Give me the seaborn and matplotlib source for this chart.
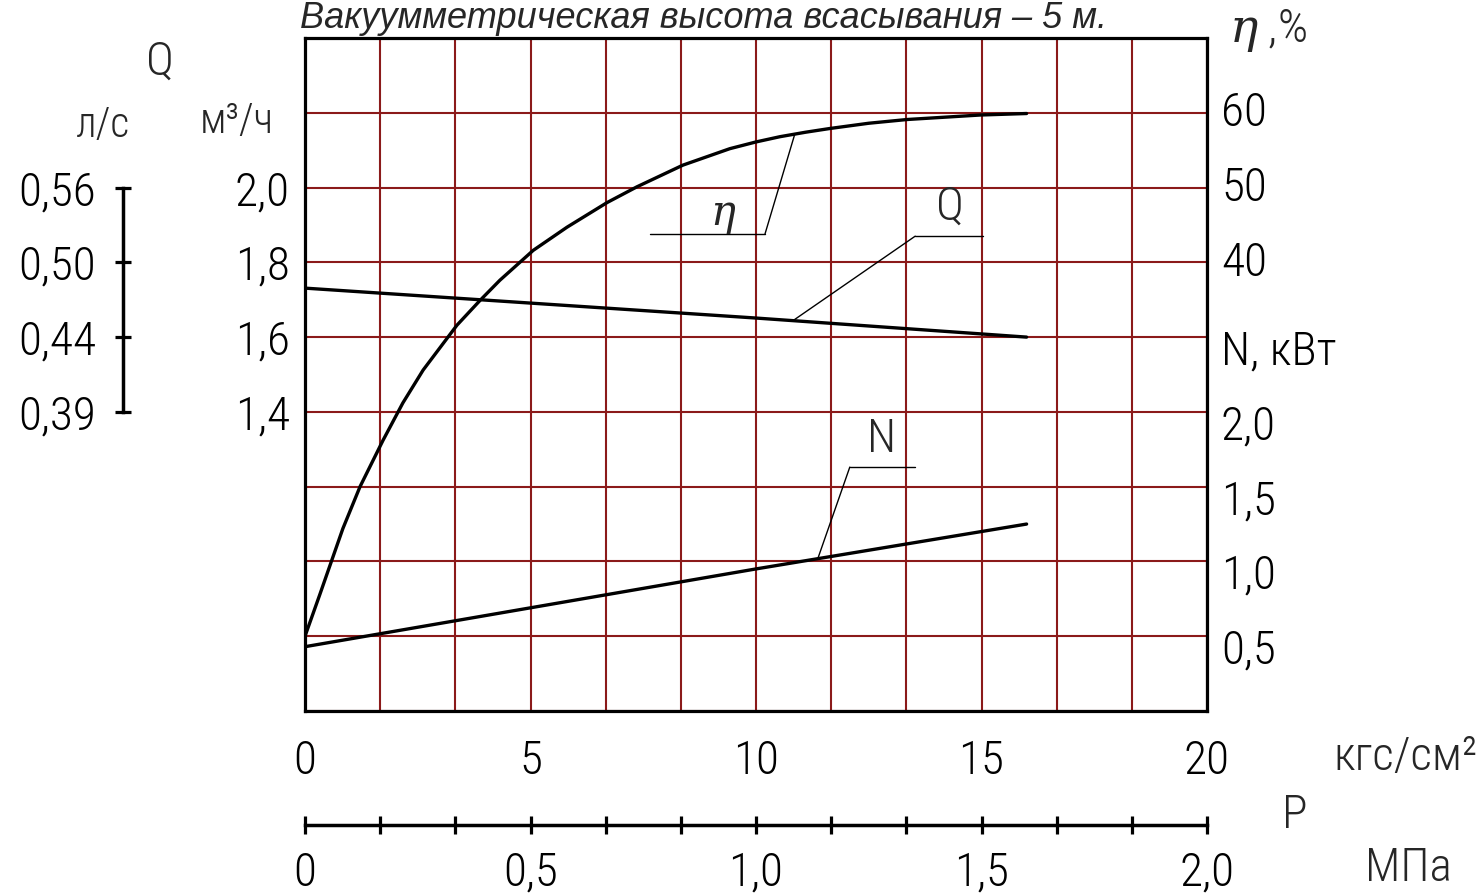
import matplotlib
matplotlib.use("Agg")
import matplotlib.pyplot as plt
import matplotlib.transforms as mtrans
from matplotlib import font_manager as fm
from matplotlib.ticker import FixedLocator
import seaborn as sns
import numpy as np
import pandas as pd

# ---------------- data ----------------
TITLE = "Вакуумметрическая высота всасывания – 5 м."

P_KGF_TICKS = [0, 5, 10, 15, 20]
P_KGF_LABELS = ["0", "5", "10", "15", "20"]
MPA_TICKS = [0, 0.5, 1.0, 1.5, 2.0]
MPA_LABELS = ["0", "0,5", "1,0", "1,5", "2,0"]
Q_TICKS = [1.4, 1.6, 1.8, 2.0]
Q_LABELS = ["1,4", "1,6", "1,8", "2,0"]
QLS_LABELS = ["0,39", "0,44", "0,50", "0,56"]
ETA_TICKS = [40, 50, 60]
ETA_LABELS = ["40", "50", "60"]
N_TICKS = [0.5, 1.0, 1.5, 2.0, 2.5]
N_LABELS = ["0,5", "1,0", "1,5", "2,0", "N, кВт"]

q_p = [0, 5, 10, 16]
q_val = [1.731, 1.691, 1.651, 1.600]

n_p = [0, 5, 10, 16]
n_val = [0.43, 0.69, 0.95, 1.25]

eta_p = [0, 0.33, 0.55, 0.84, 1.22, 1.73, 2.17, 2.62, 3.37, 3.88, 4.32, 5.06,
         5.81, 6.70, 7.36, 8.38, 9.42, 10.0, 10.53, 11.1, 11.64, 12.5, 13.35,
         14.97, 16.0]
eta_val = [-10, -4.4, -0.6, 4.4, 10.0, 16.2, 21.2, 25.6, 31.6, 34.9, 37.6, 41.6,
           44.7, 48.0, 50.1, 53.0, 55.2, 56.1, 56.8, 57.4, 57.9, 58.6, 59.1,
           59.7, 59.9]

# ---------------- style ----------------
sns.set_theme(style="white")
names = {f.name for f in fm.fontManager.ttflist}
narrow = next((n for n in ["Liberation Sans Narrow", "DejaVu Sans Condensed",
                           "Roboto Condensed", "Open Sans Condensed"] if n in names),
              "DejaVu Sans")
plt.rcParams["font.family"] = [narrow, "DejaVu Sans"]
plt.rcParams["font.weight"] = "light"
plt.rcParams["mathtext.fontset"] = "dejavuserif"

GRID = "#8B1A1A"
FS = 34
W, H = 1484, 896

fig = plt.figure(figsize=(W / 100, H / 100), dpi=100)
fig.patch.set_facecolor("white")
ax = fig.add_axes([305 / W, 1 - 711 / H, 902 / W, 673 / H])

# main axes: P (kgf/cm2) vs Q (m3/h)
ax.set_xlim(0, 20)
ax.set_ylim(0.6, 2.4)
ax.xaxis.set_minor_locator(FixedLocator(np.linspace(0, 20, 13)))
ax.yaxis.set_minor_locator(FixedLocator(np.linspace(0.6, 2.4, 10)))
ax.set_xticks(P_KGF_TICKS, labels=P_KGF_LABELS)
ax.set_yticks(Q_TICKS, labels=Q_LABELS)
ax.grid(which="both", color=GRID, lw=1.5)
ax.set_axisbelow(True)
ax.tick_params(axis="both", which="both", length=0, labelsize=FS, colors="black")
ax.tick_params(axis="x", pad=20)
ax.tick_params(axis="y", pad=11)
for s in ax.spines.values():
    s.set_visible(True)
    s.set_color("black")
    s.set_linewidth(2.3)
    s.set_zorder(5)

df_q = pd.DataFrame({"P": q_p, "Q": q_val})
sns.lineplot(data=df_q, x="P", y="Q", ax=ax, color="black", lw=2.4,
             estimator=None, sort=False)

# eta axis
ax_eta = ax.twinx()
df_eta = pd.DataFrame({"P": eta_p, "eta": eta_val})
sns.lineplot(data=df_eta, x="P", y="eta", ax=ax_eta, color="black", lw=2.4,
             estimator=None, sort=False)
ax_eta.set_ylim(-20, 70)
ax_eta.set_yticks(ETA_TICKS, labels=ETA_LABELS)

# N axis
ax_n = ax.twinx()
df_n = pd.DataFrame({"P": n_p, "N": n_val})
sns.lineplot(data=df_n, x="P", y="N", ax=ax_n, color="black", lw=2.4,
             estimator=None, sort=False)
ax_n.set_ylim(0, 4.5)
ax_n.set_yticks(N_TICKS, labels=N_LABELS)

for a in (ax, ax_eta, ax_n):
    a.set_xlabel("")
    a.set_ylabel("")
for a in (ax_eta, ax_n):
    a.grid(False)
    for s in a.spines.values():
        s.set_visible(False)
    a.tick_params(axis="y", length=0, labelsize=FS, pad=10, colors="black")
ax.set_xlim(0, 20)

shift = mtrans.ScaledTranslation(0, -0.10, fig.dpi_scale_trans)
for lab in ax_n.get_yticklabels():
    lab.set_transform(lab.get_transform() + shift)
shift_up = mtrans.ScaledTranslation(0, 0.04, fig.dpi_scale_trans)
for lab in ax_eta.get_yticklabels():
    lab.set_transform(lab.get_transform() + shift_up)

# secondary Q scale in l/s
sec_q = ax.secondary_yaxis((123 - 305) / 902, functions=(lambda q: q / 3.6, lambda l: l * 3.6))
sec_q.set_yticks([q / 3.6 for q in Q_TICKS], labels=QLS_LABELS)
sec_q.spines["left"].set_bounds(Q_TICKS[0] / 3.6, Q_TICKS[-1] / 3.6)
sec_q.spines["left"].set_linewidth(2.5)
sec_q.spines["left"].set_color("black")
sec_q.tick_params(axis="y", direction="inout", length=11, width=2.3, labelsize=FS,
                  pad=14, colors="black")

# secondary P scale in MPa
sec_p = ax.secondary_xaxis((711 - 825) / 673, functions=(lambda p: p / 10, lambda m: m * 10))
sec_p.set_xticks(MPA_TICKS, labels=MPA_LABELS)
sec_p.xaxis.set_minor_locator(FixedLocator(np.linspace(0, 2, 13)))
sec_p.spines["bottom"].set_linewidth(2.5)
sec_p.spines["bottom"].set_color("black")
sec_p.tick_params(axis="x", which="both", direction="inout", length=13, width=2.3,
                  labelsize=FS, pad=12, colors="black")

# leaders / labels of curves
LW_L = 1.0
# eta
eta_anchor = 10.86
ax_eta.plot([7.65, 10.2], [43.8, 43.8], color="black", lw=LW_L)
ax_eta.annotate("", xy=(eta_anchor, np.interp(eta_anchor, eta_p, eta_val)),
                xytext=(10.2, 43.8),
                arrowprops=dict(arrowstyle="-", lw=LW_L, color="black",
                                shrinkA=0, shrinkB=0))
ax_eta.text(9.27, 45.0, r"$\eta$", fontsize=30, ha="center", va="baseline")
# Q
q_anchor = 10.82
ax.plot([13.53, 15.03], [1.870, 1.870], color="black", lw=LW_L)
ax.annotate("", xy=(q_anchor, np.interp(q_anchor, q_p, q_val)), xytext=(13.53, 1.870),
            arrowprops=dict(arrowstyle="-", lw=LW_L, color="black", shrinkA=0, shrinkB=0))
ax.text(14.3, 1.89, "Q", fontsize=FS, ha="center", va="bottom")
# N
n_anchor = 11.37
ax_n.plot([12.08, 13.53], [1.631, 1.631], color="black", lw=LW_L)
ax_n.annotate("", xy=(n_anchor, np.interp(n_anchor, n_p, n_val)), xytext=(12.08, 1.631),
              arrowprops=dict(arrowstyle="-", lw=LW_L, color="black", shrinkA=0, shrinkB=0))
ax_n.text(12.79, 1.67, "N", fontsize=FS, ha="center", va="bottom")

# free texts
def ftxt(x, y, s, **kw):
    kw.setdefault("fontsize", FS)
    kw.setdefault("ha", "center")
    kw.setdefault("va", "center")
    fig.text(x / W, 1 - y / H, s, **kw)

fig.text(300 / W, 1 - 28 / H, TITLE, fontsize=26, style="italic", weight="normal",
         family=["Liberation Sans", "DejaVu Sans"], ha="left", va="baseline")
ftxt(160, 62, "Q")
ftxt(103, 126, "л/с", fontsize=30)
ftxt(237, 122, "м³/ч", fontsize=30)
ftxt(1268, 30, r"$\eta$ ,%")
ftxt(1405, 757, "кгс/см²")
ftxt(1295, 815, "P")
ftxt(1408, 868, "МПа")

fig.savefig("out.png", dpi=100, facecolor="white")
